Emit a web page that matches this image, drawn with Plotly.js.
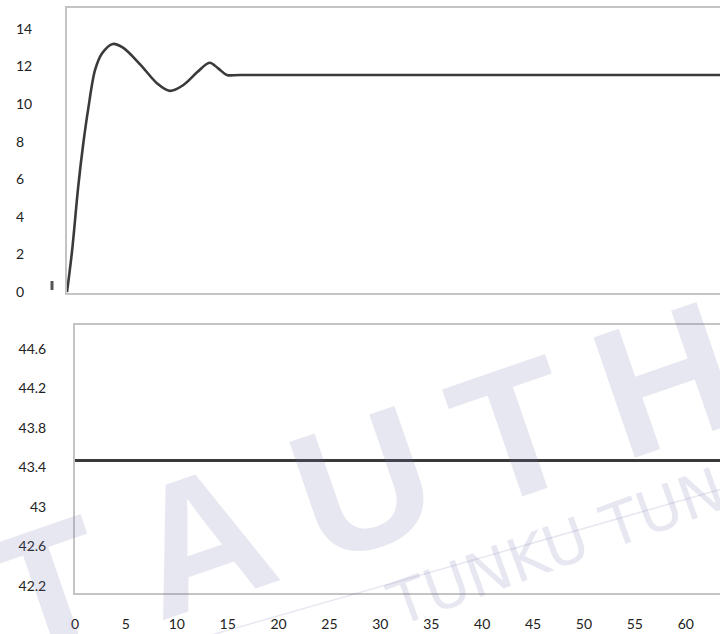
<!DOCTYPE html>
<html>
<head>
<meta charset="utf-8">
<script src="https://cdn.plot.ly/plotly-3.0.1.min.js"></script>
<style>
  html, body { margin: 0; padding: 0; background: #fff; overflow: hidden; width: 720px; height: 634px; }
  #chart { width: 800px; height: 634px; }
</style>
</head>
<body>
<div id="chart"></div>
<script>
// Time axis (s)
const xTicks = [0, 5, 10, 15, 20, 25, 30, 35, 40, 45, 50, 55, 60];

// Upper response: rise, overshoot and settling
const tUpper = [0, 0.5, 1.1, 1.6, 2.1, 2.75, 3.45, 4.5, 5.5, 7.2, 8.85, 10.1, 11.4, 12.8, 14.0, 14.85, 15.7, 17, 70];
const yUpper = [0, 2.2, 5.6, 7.9, 9.8, 11.8, 12.7, 13.2, 13.0, 12.1, 11.1, 10.7, 11.0, 11.7, 12.2, 11.9, 11.55, 11.55, 11.55];
const yTicksUpper = [0, 2, 4, 6, 8, 10, 12, 14];

// Lower response: constant level
const tLower = [0, 70];
const yLower = [43.47, 43.47];
const yTicksLower = [42.2, 42.6, 43, 43.4, 43.8, 44.2, 44.6];
const yTickTextLower = ['42.2', '42.6', '43', '43.4', '43.8', '44.2', '44.6'];

const W = 800, H = 634;
const px = v => v / W;          // horizontal pixel -> paper fraction
const py = v => 1 - v / H;      // vertical pixel (from top) -> paper fraction

const tickFont = { family: "Lato, 'Open Sans', sans-serif", size: 14, color: '#222' };
const frame = '#c4c4c4';
const lineColor = '#3a3a3a';
const upperRange = [-0.05, 15.11];

const traces = [
  {
    x: tUpper, y: yUpper, xaxis: 'x', yaxis: 'y', type: 'scatter', mode: 'lines',
    line: { color: lineColor, width: 2.6, shape: 'spline', smoothing: 0.9 },
    hoverinfo: 'skip'
  },
  // empty trace so the label-only axis y3 gets its own subplot
  { x: [], y: [], xaxis: 'x', yaxis: 'y3', type: 'scatter', mode: 'lines', hoverinfo: 'skip' },
  {
    x: tLower, y: yLower, xaxis: 'x2', yaxis: 'y2', type: 'scatter', mode: 'lines',
    line: { color: lineColor, width: 2.8 },
    hoverinfo: 'skip'
  }
];

const wmColor = 'rgba(110,110,170,0.17)';

const layout = {
  width: W, height: H,
  margin: { l: 0, r: 0, t: 0, b: 0 },
  paper_bgcolor: '#fff', plot_bgcolor: '#fff',
  showlegend: false,
  xaxis: {
    domain: [px(67), px(790)], range: [0, 71.0], anchor: 'y',
    showticklabels: false, ticks: '', showgrid: false, zeroline: false,
    showline: true, mirror: true, linecolor: frame, linewidth: 2
  },
  yaxis: {
    domain: [py(293), py(8)], range: upperRange, anchor: 'x',
    showticklabels: false, ticks: '', showgrid: false, zeroline: false,
    showline: true, mirror: true, linecolor: frame, linewidth: 2
  },
  // left-aligned labels for the upper panel
  yaxis3: {
    overlaying: 'y', anchor: 'free', position: px(12), side: 'left',
    range: upperRange, tickvals: yTicksUpper, ticks: '',
    ticklabelposition: 'inside', ticklabeloverflow: 'allow',
    showgrid: false, zeroline: false, showline: false, tickfont: tickFont
  },
  xaxis2: {
    domain: [px(75), px(790)], range: [0, 70.24], anchor: 'y2',
    tickvals: xTicks, ticks: '', ticklabelstandoff: 17, tickfont: tickFont,
    showgrid: false, zeroline: false,
    showline: true, mirror: true, linecolor: frame, linewidth: 2
  },
  yaxis2: {
    domain: [py(593), py(325)], range: [42.13, 44.84], anchor: 'x2',
    tickvals: yTicksLower, ticktext: yTickTextLower, ticks: '',
    ticklabelstandoff: 24, tickfont: tickFont,
    showgrid: false, zeroline: false,
    showline: true, mirror: true, linecolor: frame, linewidth: 2
  },
  shapes: [
    { type: 'line', xref: 'paper', yref: 'paper', x0: px(52), x1: px(52), y0: py(281), y1: py(290),
      line: { color: '#555', width: 3 } },
    { type: 'line', xref: 'paper', yref: 'paper', x0: px(180), x1: px(760), y0: py(644), y1: py(478),
      line: { color: wmColor, width: 1.5 } }
  ],
  annotations: [
    { text: 'T\u2009A\u2009U\u2009T\u2009H', xref: 'paper', yref: 'paper', x: px(362), y: py(484),
      xanchor: 'center', yanchor: 'middle', showarrow: false, textangle: -19,
      font: { family: "'Liberation Sans', sans-serif", size: 185, weight: 700, color: wmColor } },
    { text: 'TUNKU TUN', xref: 'paper', yref: 'paper', x: px(556), y: py(547),
      xanchor: 'center', yanchor: 'middle', showarrow: false, textangle: -20,
      font: { family: "'DejaVu Sans', sans-serif", size: 60, color: wmColor } }
  ]
};

Plotly.newPlot('chart', traces, layout, { staticPlot: true, displayModeBar: false });
</script>
</body>
</html>
